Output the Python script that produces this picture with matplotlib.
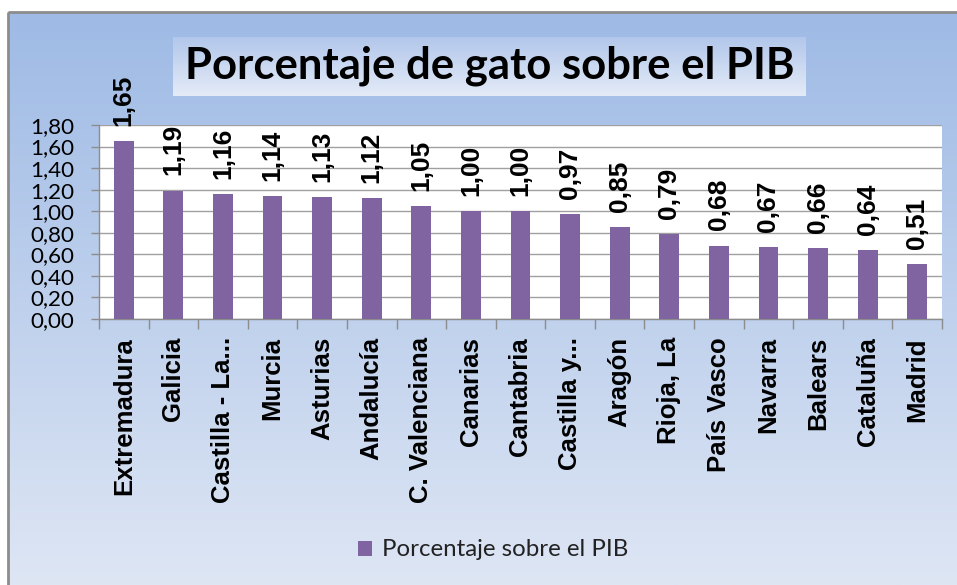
import matplotlib
matplotlib.use('Agg')
import matplotlib.pyplot as plt
import numpy as np
from matplotlib.patches import Rectangle

# ---------------- data ----------------
regions = ["Extremadura", "Galicia", "Castilla - La...", "Murcia", "Asturias",
           "Andalucía", "C. Valenciana", "Canarias", "Cantabria", "Castilla y...",
           "Aragón", "Rioja, La", "País Vasco", "Navarra", "Balears", "Cataluña",
           "Madrid"]
values = [1.65, 1.19, 1.16, 1.14, 1.13, 1.12, 1.05, 1.00, 1.00, 0.97,
          0.85, 0.79, 0.68, 0.67, 0.66, 0.64, 0.51]
yticks = [0.0, 0.2, 0.4, 0.6, 0.8, 1.0, 1.2, 1.4, 1.6, 1.8]
title = "Porcentaje de gato sobre el PIB"
series_name = "Porcentaje sobre el PIB"

W, H = 957, 585
fig = plt.figure(figsize=(W / 100, H / 100), dpi=100)
fig.patch.set_facecolor('white')

# ---------------- background ----------------
bg = fig.add_axes([0, 0, 1, 1], zorder=-10)
bg.set_xlim(0, W)
bg.set_ylim(H, 0)
bg.axis('off')

def vgrad(top, bottom, n=256):
    t = np.linspace(0, 1, n)[:, None]
    top = np.array(top) / 255.0
    bottom = np.array(bottom) / 255.0
    g = top[None, :] * (1 - t) + bottom[None, :] * t
    return g[:, None, :]

bg.imshow(vgrad((158, 186, 229), (222, 230, 244)), extent=[8, W, H, 12],
          aspect='auto', interpolation='bilinear')
bg.add_patch(Rectangle((8, 12), W, H, fill=False, edgecolor='#8C8C8C', lw=2))
# title box
bg.imshow(vgrad((178, 199, 235), (228, 235, 247)), extent=[173, 806, 96, 37],
          aspect='auto', interpolation='bilinear')
bg.set_xlim(0, W)
bg.set_ylim(H, 0)

renderer = fig.canvas.get_renderer()

def fit_text(txt, target_w):
    txt.set_fontsize(10)
    w = txt.get_window_extent(renderer).width
    txt.set_fontsize(10 * target_w / w)

t = fig.text(490 / W, 1 - 66 / H, title, ha='center', va='center',
             family='Lato', weight='bold', color='black')
fit_text(t, 610)

# ---------------- main axes ----------------
x0, x1, ytop, ybot = 99, 942, 125, 319
ax = fig.add_axes([x0 / W, 1 - ybot / H, (x1 - x0) / W, (ybot - ytop) / H])
ax.set_facecolor('white')

x = np.arange(len(regions))
bars = ax.bar(x, values, width=0.4, color='#8064A2', zorder=3, label=series_name)

ax.set_xlim(-0.5, len(regions) - 0.5)
ax.set_ylim(0, 1.8)
ax.set_yticks(yticks)

# y tick label font size fit
probe = fig.text(0, 0, "1,80", family='Lato')
fit_text(probe, 44)
yfs = probe.get_fontsize()
probe.remove()

ax.set_yticklabels([f"{v:.2f}".replace('.', ',') for v in yticks],
                   family='Lato', fontsize=yfs)
ax.tick_params(axis='y', length=6, width=1, color='#8C8C8C', pad=12)
ax.grid(axis='y', color='#A0A0A0', lw=1, zorder=0)

ax.set_xticks(x)
ax.set_xticklabels(regions, rotation=90, ha='center', va='top',
                   family='Liberation Sans', weight='bold', fontsize=18.5)
ax.set_xticks(np.arange(-0.5, len(regions)), minor=True)
ax.tick_params(axis='x', which='major', length=0, pad=13)
ax.tick_params(axis='x', which='minor', length=7, width=1, color='#8C8C8C')

for s in ['top', 'right']:
    ax.spines[s].set_visible(False)
for s in ['left', 'bottom']:
    ax.spines[s].set_color('#8C8C8C')
    ax.spines[s].set_linewidth(1)

for xi, v in zip(x, values):
    ax.annotate(f"{v:.2f}".replace('.', ','), (xi, v), xytext=(0, 11),
                textcoords='offset points', rotation=90, ha='center', va='bottom',
                family='Liberation Sans', weight='bold', fontsize=19,
                annotation_clip=False, zorder=5)

# legend
probe = fig.text(0, 0, series_name, family='Lato')
fit_text(probe, 246)
lfs = probe.get_fontsize()
probe.remove()
sq = 14 / (lfs * 100 / 72)
leg = ax.legend(handles=[bars], labels=[series_name], loc='center',
                bbox_to_anchor=(493 / W, 1 - 550 / H), bbox_transform=fig.transFigure,
                frameon=False, prop={'family': 'Lato', 'size': lfs},
                handlelength=sq, handleheight=sq, handletextpad=0.4, borderpad=0)
for txt in leg.get_texts():
    txt.set_color('#222222')

fig.savefig('out.png', dpi=100)
